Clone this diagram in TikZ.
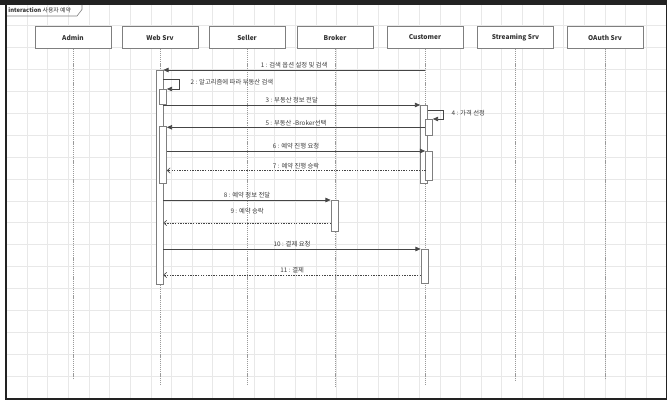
\documentclass[tikz,border=0pt]{standalone}
\usepackage{fontspec}
\setmainfont{Noto Sans CJK KR}
\usepackage{tikz}
\usetikzlibrary{arrows.meta,shadows}
\usepackage{xcolor}
\definecolor{gridc}{HTML}{E8E8E8}
\definecolor{framec}{HTML}{222222}
\definecolor{boxc}{HTML}{7F7F7F}
\definecolor{lifec}{HTML}{9A9A9A}
\definecolor{msgc}{HTML}{454545}
\definecolor{txtc}{HTML}{333333}
\definecolor{lblc}{HTML}{3C3C3C}

\begin{document}
\begin{tikzpicture}[x=0.03cm, y=-0.03cm,
  every node/.style={font=\fontsize{5.4}{6}\selectfont},
  head/.style={draw=boxc, fill=white, line width=0.6pt, minimum width=2.28cm,
               minimum height=0.645cm, text=txtc,
               font=\fontsize{5.6}{7}\selectfont\bfseries,
               drop shadow={shadow xshift=0.8pt, shadow yshift=-0.8pt, opacity=0.2}},
  act/.style={draw=boxc, fill=white, line width=0.5pt, minimum width=0.21cm,
              inner sep=0pt, anchor=north},
  life/.style={draw=lifec, line width=0.6pt, dash pattern=on 1pt off 0.8pt},
  msg/.style={draw=msgc, line width=0.6pt, -{Triangle[length=4.5pt,width=3.8pt]}},
  ret/.style={draw=msgc, line width=0.5pt, dash pattern=on 1.2pt off 1pt,
              -{Straight Barb[length=2.5pt,width=4.5pt]}},
  lbl/.style={text=lblc, inner sep=1.2pt},
  gridline/.style={draw=gridc, line width=0.5pt}]

  \useasboundingbox (0,0) rectangle (667,400);

  % ---- Background grid ----
  \foreach \k in {0,...,31}
    \draw[gridline] (27+20.64*\k,5) -- (27+20.64*\k,397.5);
  \foreach \k in {0,...,16}
    \draw[gridline] (7,376-21.9*\k) -- (666,376-21.9*\k);

  % ---- Outer frame ----
  \fill[framec] (0,0) rectangle (667,5);
  \fill[framec] (5,0) rectangle (7,400);
  \fill[framec] (5,397.5) rectangle (667,400);
  \fill[framec] (666,0) rectangle (667,400);

  % ---- Interaction label ----
  \node[anchor=west, text=txtc, inner sep=1pt, font=\fontsize{5}{6}\selectfont]
    (frm) at (7,10.5) {\textbf{interaction} 사용자 예약};
  \draw[boxc, line width=0.5pt] (7,16) -- (77,16) -- (82,9.5) -- (82,5);

  % ---- Lifeline heads ----
  \node[head] (admin)  at (73,37.5)    {Admin};
  \node[head] (web)    at (160,37.5)   {Web Srv};
  \node[head] (seller) at (247,37.5)   {Seller};
  \node[head] (broker) at (335,37.5)   {Broker};
  \node[head] (cust)   at (425,37.5)   {Customer};
  \node[head] (stream) at (515.5,37.5) {Streaming Srv};
  \node[head] (oauth)  at (605,37.5)   {OAuth Srv};

  % ---- Lifeline ends ----
  \coordinate (admin-end)  at (73,379);
  \coordinate (web-end)    at (160,384);
  \coordinate (seller-end) at (247,384);
  \coordinate (broker-end) at (335,387);
  \coordinate (cust-end)   at (425,384);
  \coordinate (stream-end) at (515.5,380);
  \coordinate (oauth-end)  at (605,379);

  \draw[life] (admin.south)  -- (admin-end);
  \draw[life] (web.south)    -- (web-end);
  \draw[life] (seller.south) -- (seller-end);
  \draw[life] (broker.south) -- (broker-end);
  \draw[life] (cust.south)   -- (cust-end);
  \draw[life] (stream.south) -- (stream-end);
  \draw[life] (oauth.south)  -- (oauth-end);

  % ---- Activation bars ----
  \node[act, minimum height=6.42cm] (webA)  at (159.5,70) {};
  \node[act, minimum height=0.45cm] (webB)  at (163,89)   {};
  \node[act, minimum height=1.71cm] (webC)  at (163,126)  {};
  \node[act, minimum height=2.34cm] (custA) at (424,105)  {};
  \node[act, minimum height=0.48cm] (custB) at (429,119)  {};
  \node[act, minimum height=0.87cm] (custC) at (429,151)  {};
  \node[act, minimum height=1.02cm] (custD) at (424.5,249) {};
  \node[act, minimum height=0.93cm] (brokA) at (334.5,200) {};

  % ---- Message start points ----
  \coordinate (m1)  at (425,70);
  \coordinate (m2)  at (163,79);
  \coordinate (m4)  at (427.5,110);
  \coordinate (m7)  at (425.5,170.5);
  \coordinate (m9)  at (331,223);
  \coordinate (m11) at (421,275);

  % ---- Messages ----
  \draw[msg] (m1) -- (m1 -| webA.east)
    node[lbl, midway, above] {1 : 검색 옵션 설정 및 검색};
  \draw[msg] (m2) -- ++(16,0) |- (webB.north east);
  \node[lbl, anchor=west] (l2) at (189,82) {2 : 알고리즘에 따라 부동산 검색};
  \draw[msg] (webA.east |- custA.north) -- (custA.north west)
    node[lbl, midway, above] {3 : 부동산 정보 전달};
  \draw[msg] (m4) -- ++(16,0) |- (custB.north east);
  \node[lbl, anchor=west] (l4) at (450,113) {4 : 가격 선정};
  \draw[msg] (custB.west) -- (custB.west -| webC.east)
    node[lbl, midway, above] {5 : 부동산 -Broker선택};
  \draw[msg] (webC.east |- custC.north) -- (custC.north west)
    node[lbl, midway, above] {6 : 예약 진행 요청};
  \draw[ret] (m7) -- (m7 -| webC.east)
    node[lbl, midway, above] {7 : 예약 진행 승락};
  \draw[msg] (webA.east |- brokA.north) -- (brokA.north west)
    node[lbl, midway, above] {8 : 예약 정보 전달};
  \draw[ret] (m9) -- (m9 -| webA.east)
    node[lbl, midway, above=6pt] {9 : 예약 승락};
  \draw[msg] (webA.east |- custD.north) -- (custD.north west)
    node[lbl, midway, above] {10 : 결제 요청};
  \draw[ret] (m11) -- (m11 -| webA.east)
    node[lbl, midway, above] {11 : 결제};
\end{tikzpicture}
\end{document}
